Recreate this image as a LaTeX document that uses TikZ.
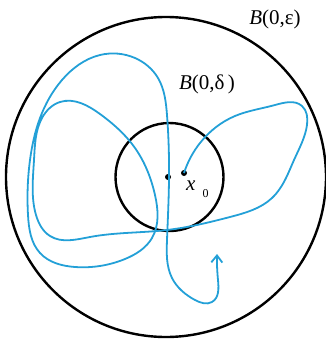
\documentclass[tikz,border=0pt]{standalone}
\usepackage{fontspec}
\setmainfont{Liberation Serif}
\usetikzlibrary{arrows.meta, hobby}
\definecolor{pathblue}{RGB}{35,160,215}

\begin{document}
\begin{tikzpicture}[
  x=1pt, y=-1pt,
  font=\fontsize{21}{23}\selectfont,
  ball/.style={draw=black, line width=2.4pt},
  track/.style={draw=pathblue, line width=1.8pt, line join=round, use Hobby shortcut},
  pt/.style={circle, fill=black, inner sep=0pt, minimum size=6pt}
]
\useasboundingbox (0,0) rectangle (326,343);

% the two balls
\draw[ball] (166,177) circle (160);
\draw[ball] (169.5,177) circle (54);

\node[pt] (origin) at (168,177) {};
\node[pt] (xzero) at (184,173) {};

% the trajectory starting at x_0
\draw[track, -{Straight Barb[length=7pt, width=11pt, line width=1.8pt]}]
  (xzero.center) .. (200,143) .. (235,116) .. (275,105) .. (302,106)
  .. (307,125) .. (294,160) .. (286,178) .. (272,198) .. (230,217)
  .. (167,230) .. (90,237) .. (50,236) .. (36,215) .. (34,160)
  .. (42,118) .. (60,102) .. (100,114) .. (135,148) .. (155,195)
  .. (152,238) .. (125,259) .. (75,267) .. (40,253) .. (28,215)
  .. (30,160) .. (40,118) .. (62,80) .. (100,55) .. (135,58)
  .. (158,78) .. (167,115) .. (169,180) .. (167,240) .. (172,278)
  .. (195,300) .. (212,302) .. (218,280) .. (217,254);

\node[anchor=base] (bigball) at (275,24) {\textit{B}(0,ε)};
\node[anchor=base] (smallball) at (207,89) {\textit{B}(0,δ\,)};
\node[anchor=base west, inner sep=0pt] (xlabel) at (186,190)
  {\textit{x}\hspace{7pt}\raisebox{-7pt}{\fontsize{12}{12}\selectfont 0}};

\end{tikzpicture}
\end{document}
